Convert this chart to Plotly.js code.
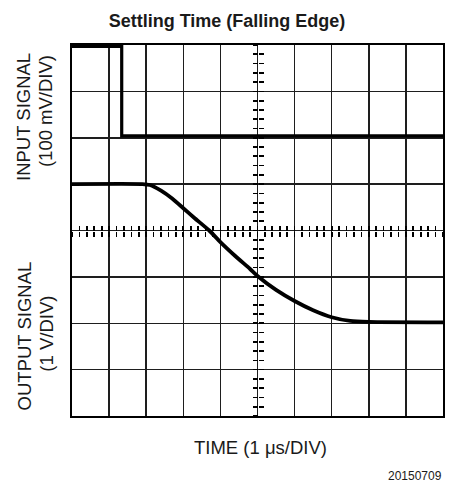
<!DOCTYPE html>
<html>
<head>
<meta charset="utf-8">
<script src="https://cdn.plot.ly/plotly-3.0.1.min.js"></script>
<style>html,body{margin:0;padding:0;background:#fff;}#chart{width:454px;height:487px;}</style>
</head>
<body>
<div id="chart"></div>
<script>
// Input signal trace (time in divisions, level in divisions)
const inputTime = [0, 1.34, 1.34, 10];
const inputLevel = [3.97, 3.97, 2.04, 2.04];
// Output signal trace
const outputTime = [0, 1.9, 2.1, 2.4, 2.7, 3.0, 3.3, 3.7, 4.0, 4.4, 4.8, 5.0, 5.5, 6.0, 6.5, 7.0, 7.5, 8.0, 10];
const outputLevel = [1.0, 1.0, 0.98, 0.86, 0.69, 0.48, 0.27, 0.0, -0.25, -0.55, -0.83, -0.98, -1.28, -1.52, -1.72, -1.87, -1.95, -1.97, -1.98];

const titleText = 'Settling Time (Falling Edge)';
const xTitle = 'TIME (1 \u03BCs/DIV)';
const yTitles = ['INPUT SIGNAL', '(100 mV/DIV)', 'OUTPUT SIGNAL', '(1 V/DIV)'];
const figId = '20150709';

const FONT = 'Liberation Sans, Arial, Helvetica, sans-serif';

const traces = [
  {x: inputTime, y: inputLevel, mode: 'lines', line: {color: '#000', width: 3.2}, hoverinfo: 'skip', showlegend: false},
  {x: outputTime, y: outputLevel, mode: 'lines', line: {color: '#000', width: 3.8, shape: 'spline', smoothing: 0.6}, hoverinfo: 'skip', showlegend: false},
  {x: [], y: [], xaxis: 'x2', yaxis: 'y2', hoverinfo: 'skip', showlegend: false},
  {x: [], y: [], xaxis: 'x3', yaxis: 'y3', hoverinfo: 'skip', showlegend: false}
];

const baseX = {range: [0, 10], showticklabels: false, zeroline: false, fixedrange: true};
const baseY = {range: [-4, 4], showticklabels: false, zeroline: false, fixedrange: true};
const tickAxis = {dtick: 0.2, tick0: 0, ticklen: 5, tickwidth: 1.7, tickcolor: '#000', showgrid: false, showline: false};

const txtFont = {family: FONT, size: 18.5, color: '#1a1a1a'};

const layout = {
  width: 454, height: 487,
  margin: {l: 72, r: 11, t: 45, b: 71, pad: 0},
  paper_bgcolor: '#fff', plot_bgcolor: '#fff',
  font: {family: FONT, color: '#000'},
  title: {text: '<b>' + titleText + '</b>', font: {family: FONT, size: 18, color: '#1a1a1a'},
          xref: 'container', x: 0.5, xanchor: 'center', yref: 'container', y: 1 - 21/487, yanchor: 'middle'},
  xaxis: Object.assign({}, baseX, {dtick: 1, tick0: 0, ticks: '', showgrid: true, gridcolor: '#1e1e1e', gridwidth: 1.5,
          showline: true, mirror: true, linecolor: '#000', linewidth: 2}),
  yaxis: Object.assign({}, baseY, {dtick: 1, tick0: 0, ticks: '', showgrid: true, gridcolor: '#1e1e1e', gridwidth: 1.5,
          showline: true, mirror: true, linecolor: '#000', linewidth: 2}),
  xaxis2: Object.assign({}, baseX, tickAxis, {overlaying: 'x', anchor: 'free', position: 0.5, ticks: 'inside'}),
  yaxis2: Object.assign({}, baseY, tickAxis, {overlaying: 'y', anchor: 'free', position: 0.5, ticks: 'inside'}),
  xaxis3: Object.assign({}, baseX, tickAxis, {overlaying: 'x', anchor: 'free', position: 0.5, ticks: 'outside'}),
  yaxis3: Object.assign({}, baseY, tickAxis, {overlaying: 'y', anchor: 'free', position: 0.5, ticks: 'outside'}),
  annotations: [
    {text: yTitles[0], xref: 'paper', yref: 'paper', x: -0.131, y: 0.807, xanchor: 'center', yanchor: 'middle', textangle: -90, showarrow: false, font: txtFont},
    {text: yTitles[1], xref: 'paper', yref: 'paper', x: -0.071, y: 0.821, xanchor: 'center', yanchor: 'middle', textangle: -90, showarrow: false, font: txtFont},
    {text: yTitles[2], xref: 'paper', yref: 'paper', x: -0.129, y: 0.215, xanchor: 'center', yanchor: 'middle', textangle: -90, showarrow: false, font: txtFont},
    {text: yTitles[3], xref: 'paper', yref: 'paper', x: -0.069, y: 0.223, xanchor: 'center', yanchor: 'middle', textangle: -90, showarrow: false, font: txtFont},
    {text: xTitle, xref: 'paper', yref: 'paper', x: 0.508, y: -0.086, xanchor: 'center', yanchor: 'middle', showarrow: false, font: txtFont},
    {text: figId, xref: 'paper', yref: 'paper', x: 1.003, y: -0.163, xanchor: 'right', yanchor: 'middle', showarrow: false, font: {family: FONT, size: 12, color: '#1a1a1a'}}
  ]
};

Plotly.newPlot('chart', traces, layout, {staticPlot: true, displayModeBar: false});
</script>
</body>
</html>
